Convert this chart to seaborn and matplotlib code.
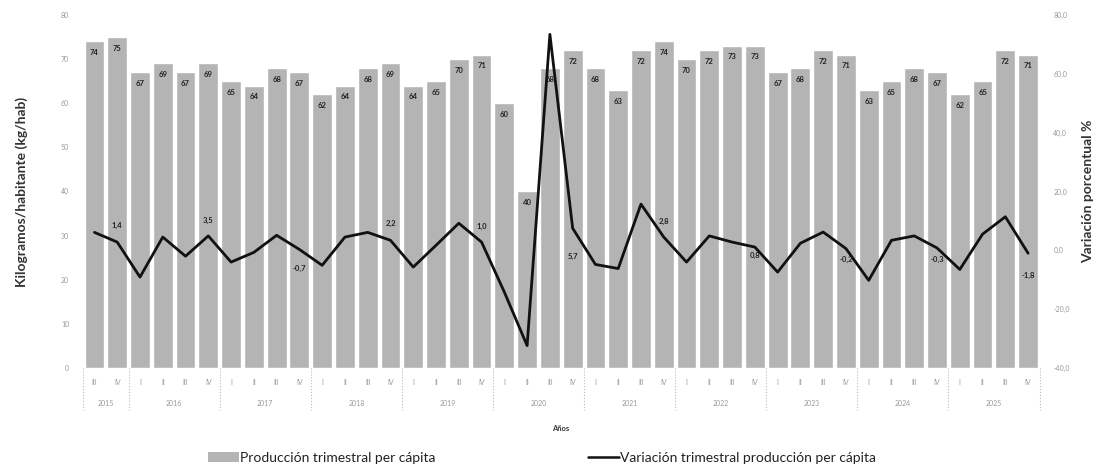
import numpy as np
import pandas as pd
import seaborn as sns
import matplotlib.pyplot as plt
import matplotlib.transforms as mtransforms
from matplotlib.patches import Patch
from matplotlib.lines import Line2D

# Datos trimestrales (2015 III - 2025 IV)
years = ["2015", "2016", "2017", "2018", "2019", "2020", "2021", "2022", "2023", "2024", "2025"]
quarters_per_year = [2, 4, 4, 4, 4, 4, 4, 4, 4, 4, 4]
quarter_names = ["III", "IV",
                 "I", "II", "III", "IV", "I", "II", "III", "IV", "I", "II", "III", "IV",
                 "I", "II", "III", "IV", "I", "II", "III", "IV", "I", "II", "III", "IV",
                 "I", "II", "III", "IV", "I", "II", "III", "IV", "I", "II", "III", "IV",
                 "I", "II", "III", "IV"]

produccion = [74, 75,
              67, 69, 67, 69,
              65, 64, 68, 67,
              62, 64, 68, 69,
              64, 65, 70, 71,
              60, 40, 68, 72,
              68, 63, 72, 74,
              70, 72, 73, 73,
              67, 68, 72, 71,
              63, 65, 68, 67,
              62, 65, 72, 71]

variacion = [6.1, 2.8,
             -9.1, 4.5, -2.0, 4.9,
             -4.0, -0.7, 5.1, 0.3,
             -5.1, 4.5, 6.1, 3.4,
             -5.7, 1.7, 9.2, 2.8,
             -14.2, -32.4, 73.4, 7.5,
             -4.8, -6.2, 15.7, 4.5,
             -4.0, 4.9, 2.8, 1.1,
             -7.4, 2.4, 6.2, 0.6,
             -10.2, 3.4, 4.9, 0.8,
             -6.5, 5.5, 11.4, -1.0]

# etiquetas de la linea (en el IV trimestre de cada año)
etiquetas_var = ["1,4", "3,5", "-0,7", "2,2", "1,0", "5,7", "2,8", "0,8", "-0,2", "-0,3", "-1,8"]
# desplazamiento vertical (puntos) de cada etiqueta
offset_var = [12, 11, -14, 12, 11, -20, 11, -6, -8, -8, -16]

df = pd.DataFrame({
    "periodo": [f"{i}-{q}" for i, q in enumerate(quarter_names)],
    "trimestre": quarter_names,
    "produccion": produccion,
    "variacion": variacion,
})
df["pos"] = np.arange(len(df))

sns.set_theme(style="white")
plt.rcParams["font.family"] = ["Lato", "DejaVu Sans"]

fig = plt.figure(figsize=(11, 4.67), dpi=100)
ax = fig.add_axes([0.0755, 0.212, 0.8695, 0.756])

sns.barplot(data=df, x="periodo", y="produccion", color="#b4b4b4",
            saturation=1, width=0.87, ax=ax)

for p, v in zip(ax.patches, df["produccion"]):
    ax.annotate(f"{v}", (p.get_x() + p.get_width() / 2, v), xytext=(0, -8),
                textcoords="offset points", ha="center", va="center",
                fontsize=5.5, fontweight="bold", color="#222222")

ax.set_ylim(0, 80)
ax.set_yticks(np.arange(0, 81, 10))
ax.set_xlim(-0.5, len(df) - 0.5)
ax.set_xticks(df["pos"])
ax.set_xticklabels(df["trimestre"])
ax.tick_params(axis="x", labelsize=5, colors="#999999", pad=8, length=0)
ax.tick_params(axis="y", labelsize=5, colors="#999999", pad=10, length=0)
ax.set_xlabel("")
ax.set_ylabel("Kilogramos/habitante (kg/hab)", fontsize=10, fontweight="bold",
              color="#333333", labelpad=24)
for s in ax.spines.values():
    s.set_visible(False)

# eje secundario: variación
ax2 = ax.twinx()
sns.lineplot(data=df, x="pos", y="variacion", color="#111111", linewidth=2, ax=ax2)
ax2.set_ylim(-40, 80)
ax2.set_yticks(np.arange(-40, 81, 20))
ax2.set_yticklabels([f"{t:.1f}".replace(".", ",") for t in np.arange(-40, 81, 20)])
ax2.tick_params(axis="y", labelsize=5, colors="#999999", pad=10, length=0)
ax2.set_xlabel("")
ax2.set_ylabel("Variación porcentual %", fontsize=10, fontweight="bold",
               color="#333333", labelpad=9)
ax2.set_xlim(-0.5, len(df) - 0.5)
for s in ax2.spines.values():
    s.set_visible(False)

idx_iv = [i for i, q in enumerate(quarter_names) if q == "IV"]
for i, lab, off in zip(idx_iv, etiquetas_var, offset_var):
    ax2.annotate(lab, (i, variacion[i]), xytext=(0, off), textcoords="offset points",
                 ha="center", va="center", fontsize=5.5, fontweight="bold",
                 color="#222222")

# años bajo los trimestres y separadores punteados
trans = mtransforms.blended_transform_factory(ax.transData, ax.transAxes)
start = 0
bounds = [-0.5]
for y, n in zip(years, quarters_per_year):
    centro = start + (n - 1) / 2
    ax.text(centro, -0.1, y, transform=trans, ha="center", va="center",
            fontsize=5, color="#999999")
    start += n
    bounds.append(start - 0.5)
for b in bounds:
    ax.plot([b, b], [0, -0.118], transform=trans, color="#bbbbbb",
            linestyle=":", linewidth=0.8, clip_on=False)

fig.text(0.51, 0.083, "Años", ha="center", va="center", fontsize=5.5,
         fontweight="bold", color="#333333")

handles = [Patch(facecolor="#b4b4b4", edgecolor="none"),
           Line2D([0], [0], color="#111111", linewidth=1.8)]
fig.legend(handles, ["Producción trimestral per cápita",
                     "Variación trimestral producción per cápita"],
           loc="center", bbox_to_anchor=(0.493, 0.02), ncol=2, frameon=False,
           fontsize=10, handlelength=2.2, handleheight=0.7, handletextpad=0.1,
           columnspacing=11, labelcolor="#222222")

fig.savefig("out.png", dpi=100)
